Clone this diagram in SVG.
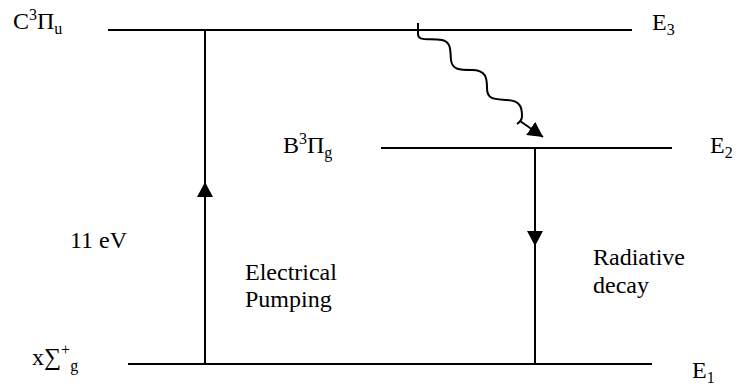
<svg xmlns="http://www.w3.org/2000/svg" width="739" height="386" viewBox="0 0 739 386">
<style>
text{font-family:'Liberation Serif','Times New Roman','DejaVu Serif',serif;font-size:24px;fill:#000}
.s{font-size:16px}
.lvl{stroke:#000;stroke-width:2;fill:none}
.ar{stroke:#000;stroke-width:2;fill:none}
</style>
<defs>
<marker id="ah" viewBox="0 0 15 16" refX="15" refY="8" markerWidth="15" markerHeight="16" markerUnits="userSpaceOnUse" orient="auto">
<path d="M0,0 L15,8 L0,16 z" fill="#000"/>
</marker>
</defs>
<rect width="739" height="386" fill="#fff"/>
<g id="level-E3" font-family="Liberation Serif, Times New Roman, serif">
<line class="lvl" x1="108" y1="30" x2="632" y2="30"/>
<text x="13" y="29">C<tspan class="s" y="20">3</tspan><tspan y="29">Π</tspan><tspan class="s" y="34">u</tspan></text>
<text x="652" y="30">E<tspan class="s" y="35">3</tspan></text>
</g>
<g id="level-E2" font-family="Liberation Serif, Times New Roman, serif">
<line class="lvl" x1="381" y1="148" x2="672" y2="148"/>
<text x="283" y="153">B<tspan class="s" y="144">3</tspan><tspan y="153">Π</tspan><tspan class="s" y="158">g</tspan></text>
<text x="710" y="153">E<tspan class="s" y="158">2</tspan></text>
</g>
<g id="level-E1" font-family="Liberation Serif, Times New Roman, serif">
<line class="lvl" x1="128" y1="364" x2="652" y2="364"/>
<text x="32" y="365">x∑<tspan class="s" y="355">+</tspan><tspan class="s" y="371">g</tspan></text>
<text x="692" y="378">E<tspan class="s" y="383">1</tspan></text>
</g>
<g id="labels" font-family="Liberation Serif, Times New Roman, serif">
<text x="70" y="248">11 eV</text>
<text x="245" y="280">Electrical</text>
<text x="245" y="307">Pumping</text>
<text x="593" y="265">Radiative</text>
<text x="593" y="293">decay</text>
</g>
<g id="connectors">
<path class="ar" d="M205,364 L205,182" marker-end="url(#ah)"/>
<line class="ar" x1="205" y1="185" x2="205" y2="30"/>
<path class="ar" d="M535,148 L535,246" marker-end="url(#ah)"/>
<line class="ar" x1="535" y1="243" x2="535" y2="364"/>
<path class="ar" d="M418,23 L418,34 C418,42 430,38 442,40 C452,42 450,52 451,60 C452,70 460,70 472,70 C486,70 487,78 487,88 C487,100 495,99 507,100 C521,101 522,108 522,116 C522,120 520,122 517,124 M520,121 L543,137" marker-end="url(#ah)"/>
</g>
</svg>
